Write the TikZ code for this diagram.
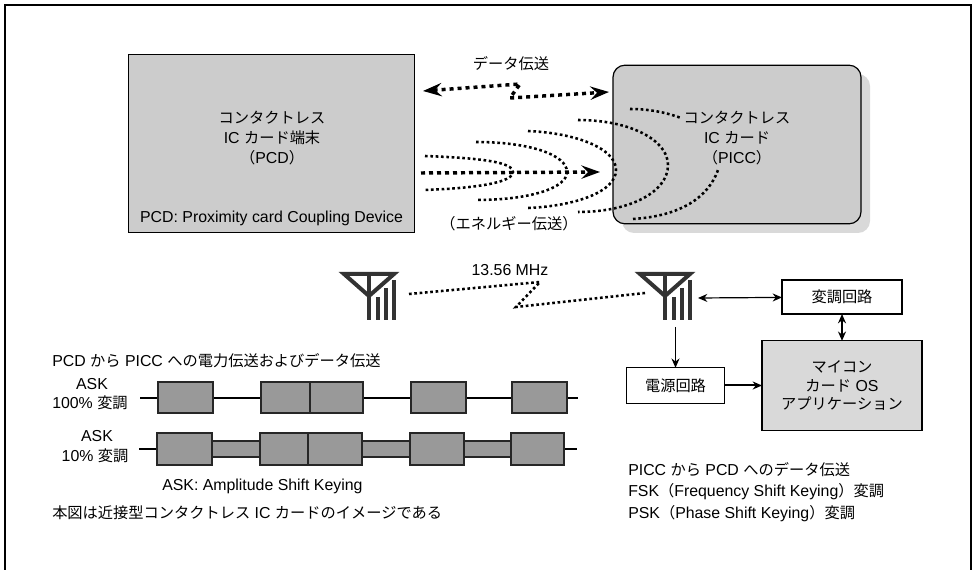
\documentclass[tikz,border=0pt]{standalone}
\usepackage{fontspec}
\usetikzlibrary{arrows.meta}
\setmainfont{Liberation Sans}
\newfontfamily\cjk[Scale=0.96]{Noto Sans CJK JP}
\newcommand{\J}[1]{{\cjk #1}}
\definecolor{cardgray}{HTML}{CCCCCC}
\definecolor{shadowgray}{HTML}{D9D9D9}
\definecolor{pulsegray}{HTML}{999999}
\definecolor{antgray}{HTML}{333333}
\tikzset{
  lbl/.style={inner sep=0pt, align=center, font=\fontsize{11.9}{15}\selectfont},
  lblleft/.style={lbl, anchor=west},
  whitebox/.style={draw=black, fill=white, line width=0.8pt, inner sep=0pt, outer sep=0pt, font=\fontsize{11.9}{15}\selectfont},
  pulse/.style={draw=black!85, fill=pulsegray, line width=0.9pt},
  fatwave/.style={line width=2.6pt, dash pattern=on 3pt off 3pt},
  thinwave/.style={line width=1.9pt, dash pattern=on 2pt off 2pt},
  bigtip/.style={>={Stealth[length=14pt,width=10pt,inset=5pt]}},
  smalltip/.style={>={Stealth[length=7pt,width=6pt]}},
  antenna/.pic={
    \draw[antgray, line width=3pt, line join=miter] (-25,-46) -- (25,-46) -- (0,-24) -- cycle;
    \draw[antgray, line width=3pt] (0,-46) -- (0,0) (9,-23) -- (9,0) (17,-32) -- (17,0) (25,-40) -- (25,0);
  }
}
\begin{document}
\begin{tikzpicture}[x=0.75pt, y=-0.75pt]
  \useasboundingbox (0,0) rectangle (972,570);
  \draw[line width=1.5pt] (5,570) -- (5,5) -- (971,5) -- (971,570);
  % upper part
  \node[draw=black, fill=cardgray, line width=0.9pt, minimum width=215pt, minimum height=134pt, inner sep=0pt, outer sep=0pt] (pcd) at (271.5,143.5) {};
  \fill[shadowgray, rounded corners=9pt] (622,74) rectangle (870,233);
  \node[draw=black, fill=cardgray, line width=0.9pt, rounded corners=9pt, minimum width=186pt, minimum height=119pt, inner sep=0pt, outer sep=0pt] (picc) at (737,144.5) {};
  \node[lbl] (pcdname) at (272,138) {\J{コンタクトレス}\\IC \J{カード端末}\\\J{（}PCD\J{）}};
  \node[lbl] (pcdnote) at (271.5,218) {PCD: Proximity card Coupling Device};
  \node[lbl] (piccname) at (737,138) {\J{コンタクトレス}\\IC \J{カード}\\\J{（}PICC\J{）}};
  \node[lbl] (datalbl) at (511,64) {\J{データ伝送}};
  \node[lbl] (energylbl) at (509,224) {\J{（エネルギー伝送）}};
  % data arrow
  \coordinate (dl) at (423,91);
  \coordinate (dm1) at (520,84);
  \coordinate (dm2) at (510,98);
  \coordinate (dr) at (609,92);
  \draw[bigtip, <->, fatwave] (dl) -- (dm1) -- (dm2) -- (dr);
  % energy
  \coordinate (el) at (421,173);
  \coordinate (er) at (600,172);
  \draw[bigtip, ->, fatwave] (el) -- (er);
  \draw[thinwave] (425,156) .. controls (480,158) and (513,162) .. (513,172) .. controls (513,182) and (480,188) .. (425,190);
  \draw[thinwave] (476,142) .. controls (530,142) and (567,155) .. (567,172) .. controls (567,188) and (530,200) .. (476,200);
  \draw[thinwave] (528,131) .. controls (575,133) and (616,148) .. (616,170) .. controls (616,192) and (575,206) .. (528,208);
  \draw[thinwave] (578,120) .. controls (630,120) and (668,140) .. (668,165) .. controls (668,192) and (630,212) .. (578,212);
  \draw[thinwave] (630,109) .. controls (648,109) and (665,112) .. (681,118);
  \draw[thinwave] (633,219) .. controls (680,216) and (708,198) .. (718,170);
  % antennas
  \pic at (369,320) {antenna};
  \pic at (665,320) {antenna};
  \node[lbl] (freq) at (510,270) {13.56 MHz};
  \coordinate (rl) at (409,294);
  \coordinate (rm1) at (540,282);
  \coordinate (rm2) at (516,307);
  \coordinate (rr) at (645,293);
  \draw[thinwave] (rl) -- (rm1) -- (rm2) -- (rr);
  % blocks
  \node[whitebox, minimum width=90pt, minimum height=25.5pt] (mod) at (842,297) {\J{変調回路}};
  \node[draw=black, fill=shadowgray, line width=0.8pt, minimum width=120pt, minimum height=67pt, inner sep=0pt, outer sep=0pt, align=center, font=\fontsize{11.9}{14.2}\selectfont] (mcu) at (842,385.5) {\J{マイコン}\\\J{カード} OS\\\J{アプリケーション}};
  \node[whitebox, minimum width=73pt, minimum height=26.5pt] (pwr) at (675.5,385.5) {\J{電源回路}};
  \coordinate (antout) at (698,298);
  \coordinate (antdown) at (675.5,327);
  \draw[smalltip, <->, line width=0.9pt] (antout) -- (mod);
  \draw[smalltip, ->, line width=1pt] (antdown) -- (pwr);
  \draw[smalltip, ->, line width=1.5pt] (pwr) -- (mcu);
  \draw[smalltip, <->, line width=1.5pt] (mod) -- (mcu);
  % pulses
  \node[lblleft] (headask) at (52,361) {PCD \J{から} PICC \J{への電力伝送およびデータ伝送}};
  \node[lbl] (ask1a) at (92,384) {ASK};
  \node[lbl] (ask1b) at (90,403) {100\% \J{変調}};
  \node[lbl] (ask2a) at (97,436) {ASK};
  \node[lbl] (ask2b) at (95,456) {10\% \J{変調}};
  \draw[line width=1.1pt] (140,398) -- (578,398);
  \foreach \a/\b in {158/213, 261/310, 310/363, 411/466, 512/567}
    \draw[pulse] (\a,382) rectangle (\b,413);
  \draw[line width=1.1pt] (139,449) -- (577,449);
  \foreach \a/\b in {211/260, 362/410, 464/511}
    \draw[pulse] (\a,441) rectangle (\b,457);
  \foreach \a/\b in {157/212, 260/308, 308/362, 410/464, 511/564}
    \draw[pulse] (\a,433) rectangle (\b,465);
  \node[lblleft] (askname) at (162,486) {ASK: Amplitude Shift Keying};
  \node[lblleft] (foot) at (52,513) {\J{本図は近接型コンタクトレス} IC \J{カードのイメージである}};
  \node[lblleft] (pt1) at (628,470) {PICC \J{から} PCD \J{へのデータ伝送}};
  \node[lblleft] (pt2) at (628,492) {FSK\J{（}Frequency Shift Keying\J{）変調}};
  \node[lblleft] (pt3) at (628,514) {PSK\J{（}Phase Shift Keying\J{）変調}};
\end{tikzpicture}
\end{document}
